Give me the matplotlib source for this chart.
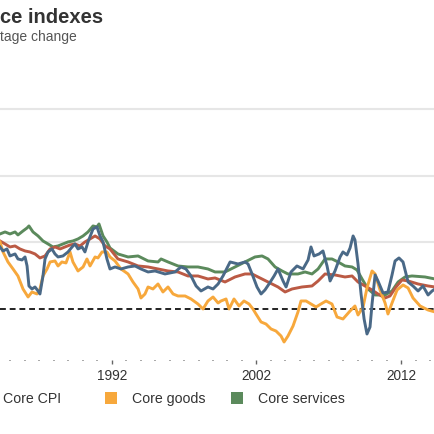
import matplotlib
matplotlib.use("Agg")
import matplotlib.pyplot as plt
from matplotlib.patches import Rectangle

plt.rcParams['font.family'] = ['Liberation Sans', 'DejaVu Sans']

# Core services (green)
svc_year = [1984.28, 1984.63, 1984.97, 1985.32, 1985.52, 1985.87, 1986.15, 1986.28, 1986.56, 1986.91,
            1987.25, 1987.60, 1987.94, 1988.29, 1988.63, 1988.98, 1989.32, 1989.67, 1990.02, 1990.36,
            1990.71, 1990.98, 1991.12, 1991.40, 1991.67, 1991.88, 1992.43, 1993.13, 1993.82, 1994.51,
            1995.20, 1995.41, 1995.89, 1996.58, 1997.27, 1997.96, 1998.65, 1999.14, 1999.83, 2000.52,
            2001.21, 2001.90, 2002.39, 2002.80, 2003.29, 2003.77, 2004.18, 2004.87, 2005.36, 2005.84,
            2006.26, 2006.74, 2007.22, 2007.64, 2008.12, 2008.61, 2008.95, 2009.30, 2009.71, 2010.20,
            2010.89, 2011.37, 2011.79, 2012.27, 2012.75, 2013.65, 2014.34]
svc_val = [2.25, 2.31, 2.25, 2.31, 2.22, 2.34, 2.43, 2.49, 2.31, 2.19,
           2.04, 1.95, 1.86, 1.89, 1.95, 2.01, 2.04, 2.10, 2.19, 2.31,
           2.49, 2.46, 2.55, 2.19, 2.01, 1.83, 1.65, 1.56, 1.59, 1.44,
           1.41, 1.50, 1.41, 1.29, 1.26, 1.26, 1.20, 1.11, 1.11, 1.26,
           1.41, 1.56, 1.59, 1.50, 1.26, 1.14, 1.05, 1.05, 1.11, 1.05,
           1.20, 1.50, 1.50, 1.41, 1.29, 1.26, 1.17, 0.90, 0.60, 0.42,
           0.42, 0.54, 0.81, 0.96, 0.99, 0.96, 0.90]

# Fourth series (red, legend entry cropped)
red_year = [1984.28, 1984.63, 1984.97, 1985.32, 1985.66, 1986.01, 1986.35, 1986.70, 1987.04, 1987.39,
            1987.74, 1988.08, 1988.43, 1988.77, 1989.12, 1989.46, 1989.81, 1990.15, 1990.50, 1990.85,
            1991.19, 1991.54, 1991.88, 1992.43, 1993.13, 1993.82, 1994.51, 1995.20, 1995.89, 1996.58,
            1997.27, 1997.96, 1998.65, 1999.14, 1999.83, 2000.52, 2001.21, 2001.70, 2002.11, 2002.80,
            2003.49, 2003.98, 2004.46, 2005.15, 2005.84, 2006.26, 2006.74, 2007.43, 2008.12, 2008.61,
            2009.02, 2009.50, 2009.99, 2010.40, 2010.89, 2011.23, 2011.65, 2012.06, 2012.48, 2013.17,
            2013.86, 2014.34]
red_val = [2.04, 1.95, 1.86, 1.89, 1.80, 1.74, 1.71, 1.65, 1.53, 1.59,
           1.80, 1.86, 1.80, 1.86, 1.92, 1.95, 1.89, 2.01, 2.10, 2.19,
           2.10, 1.89, 1.80, 1.50, 1.41, 1.29, 1.26, 1.20, 1.14, 1.11,
           0.99, 0.99, 0.90, 0.93, 0.81, 0.96, 1.05, 1.05, 0.96, 0.81,
           0.66, 0.51, 0.60, 0.66, 0.69, 0.84, 1.05, 1.02, 0.96, 0.99,
           0.81, 0.69, 0.57, 0.45, 0.33, 0.39, 0.66, 0.87, 0.84, 0.75,
           0.69, 0.66]

# Core CPI (blue)
cpi_year = [1984.28, 1984.49, 1984.76, 1984.97, 1985.32, 1985.52, 1985.80, 1986.01, 1986.15, 1986.28,
            1986.49, 1986.70, 1986.91, 1987.04, 1987.25, 1987.39, 1987.60, 1987.87, 1988.08, 1988.29,
            1988.63, 1988.98, 1989.26, 1989.46, 1989.67, 1989.95, 1990.15, 1990.36, 1990.71, 1990.98,
            1991.19, 1991.40, 1991.67, 1991.88, 1992.23, 1992.64, 1993.13, 1993.61, 1994.02, 1994.51,
            1994.99, 1995.68, 1996.37, 1996.79, 1997.13, 1997.48, 1997.83, 1998.17, 1998.65, 1999.00,
            1999.35, 1999.69, 2000.18, 2000.73, 2001.21, 2001.42, 2001.70, 2002.04, 2002.32, 2002.59,
            2002.87, 2003.22, 2003.49, 2003.84, 2004.05, 2004.39, 2004.80, 2005.22, 2005.57, 2005.77,
            2005.98, 2006.33, 2006.60, 2006.88, 2007.09, 2007.43, 2007.78, 2007.98, 2008.26, 2008.47,
            2008.68, 2008.81, 2009.02, 2009.23, 2009.44, 2009.64, 2009.85, 2009.99, 2010.20, 2010.40,
            2010.75, 2011.09, 2011.37, 2011.58, 2011.85, 2012.13, 2012.48, 2012.82, 2013.17, 2013.51,
            2013.86, 2014.14, 2014.34]
cpi_val = [1.86, 1.74, 1.80, 1.59, 1.65, 1.50, 1.47, 1.56, 1.29, 0.69,
           0.60, 0.66, 0.54, 0.45, 0.99, 1.50, 1.71, 1.80, 1.65, 1.56,
           1.59, 1.71, 1.86, 1.95, 1.80, 1.86, 1.71, 2.01, 2.40, 2.46,
           2.19, 2.01, 1.50, 1.20, 1.26, 1.20, 1.26, 1.29, 1.20, 1.11,
           1.14, 1.05, 1.11, 1.26, 1.20, 0.99, 0.69, 0.54, 0.66, 0.60,
           0.75, 0.99, 1.41, 1.35, 1.41, 1.35, 1.05, 0.66, 0.45, 0.57,
           0.75, 0.99, 1.20, 0.84, 0.66, 1.11, 1.29, 1.20, 1.47, 1.86,
           1.59, 1.65, 1.74, 1.29, 0.84, 1.14, 1.56, 1.71, 1.62, 1.83,
           2.19, 2.07, 1.35, 0.45, -0.30, -0.75, -0.54, 0.15, 1.02, 0.84,
           0.48, 0.51, 1.02, 1.44, 1.53, 1.41, 0.81, 0.69, 0.54, 0.69,
           0.42, 0.54, 0.60]

# Core goods (orange)
goods_year = [1984.28, 1984.49, 1984.83, 1985.18, 1985.52, 1985.87, 1986.22, 1986.49, 1986.84, 1987.04,
              1987.25, 1987.53, 1987.74, 1988.08, 1988.29, 1988.56, 1988.84, 1989.12, 1989.32, 1989.67,
              1990.02, 1990.29, 1990.50, 1990.85, 1991.05, 1991.33, 1991.67, 1991.88, 1992.23, 1992.64,
              1993.13, 1993.47, 1993.82, 1994.02, 1994.30, 1994.51, 1994.85, 1995.20, 1995.54, 1995.89,
              1996.24, 1996.58, 1997.07, 1997.48, 1997.96, 1998.31, 1998.65, 1999.00, 1999.35, 1999.55,
              1999.90, 2000.11, 2000.45, 2000.80, 2001.14, 2001.49, 2001.76, 2001.97, 2002.32, 2002.66,
              2003.01, 2003.35, 2003.70, 2003.91, 2004.18, 2004.53, 2004.87, 2005.08, 2005.43, 2005.77,
              2006.12, 2006.46, 2006.81, 2007.22, 2007.57, 2007.98, 2008.47, 2008.81, 2009.02, 2009.37,
              2009.64, 2009.99, 2010.20, 2010.54, 2010.89, 2011.09, 2011.37, 2011.72, 2012.13, 2012.48,
              2012.82, 2013.31, 2013.86, 2014.34]
goods_val = [2.01, 1.71, 1.41, 1.20, 0.99, 0.60, 0.36, 0.51, 0.45, 0.60,
             0.99, 1.20, 1.41, 1.44, 1.29, 1.41, 1.38, 1.71, 1.41, 1.14,
             1.26, 1.50, 1.29, 1.56, 1.53, 1.71, 1.71, 1.56, 1.44, 1.20,
             1.05, 0.81, 0.60, 0.33, 0.45, 0.66, 0.60, 0.75, 0.51, 0.66,
             0.45, 0.39, 0.39, 0.30, 0.15, 0.00, 0.24, 0.36, 0.18, 0.24,
             0.30, 0.00, 0.30, 0.09, 0.24, 0.15, 0.00, -0.15, -0.39, -0.45,
             -0.60, -0.66, -0.81, -0.99, -0.81, -0.51, -0.09, 0.24, 0.24, 0.15,
             0.06, 0.15, 0.24, 0.15, -0.24, -0.30, -0.06, 0.09, -0.18, 0.06,
             0.63, 1.14, 1.05, 0.57, 0.18, -0.15, 0.18, 0.57, 0.72, 0.63,
             0.33, 0.09, -0.03, -0.09]

grid_vals = [2, 4, 6]
tick_years = [1992, 2002, 2012]

c_blue = '#4a6987'
c_orange = '#f7a83c'
c_green = '#5b8a5c'
c_red = '#bb5a44'

fig = plt.figure(figsize=(4.35, 4.35), dpi=100)
ax = fig.add_axes([0.0, 0.1701, 1.0, 0.6156])

for g in grid_vals:
    ax.axhline(g, color='#e6e6e6', lw=1.5, zorder=1)
ax.axhline(0, color='#222222', lw=1.4, ls=(0, (3, 2)), zorder=2)

lw = 2.1
ax.plot(svc_year, svc_val, color=c_green, lw=lw, zorder=3, solid_joinstyle='round')
ax.plot(red_year, red_val, color=c_red, lw=lw, zorder=4, solid_joinstyle='round')
ax.plot(goods_year, goods_val, color=c_orange, lw=lw, zorder=5, solid_joinstyle='round')
ax.plot(cpi_year, cpi_val, color=c_blue, lw=lw, zorder=6, solid_joinstyle='round')

for s in ax.spines.values():
    s.set_visible(False)
ax.set_yticks([])
ax.set_xticks(tick_years)
ax.set_xticklabels([str(y) for y in tick_years])
ax.set_xticks(range(1985, 2015), minor=True)
ax.tick_params(axis='x', which='major', length=3, width=1, color='#666666',
               labelsize=9.8, labelcolor='#333333', pad=3)
ax.tick_params(axis='x', which='minor', length=1, width=1.2, color='#999999')
# limits last, set_ticks may widen them
ax.set_xlim(1984.28, 2014.34)
ax.set_ylim(-1.53, 6.5)

fig.text(0.0, 0.947, 'ce indexes', fontsize=14.5, fontweight='bold', color='#333333', va='baseline')
fig.text(0.0, 0.906, 'tage change', fontsize=10, color='#555555', va='baseline')

legend_items = [(-0.055, c_blue, 'Core CPI'), (0.241, c_orange, 'Core goods'),
                (0.531, c_green, 'Core services')]
for lx, col, label in legend_items:
    fig.patches.append(Rectangle((lx, 0.069), 0.0276, 0.0276, transform=fig.transFigure,
                                 facecolor=col, edgecolor='none'))
    fig.text(lx + 0.0615, 0.0736, label, fontsize=10.2, color='#333333', va='baseline')

fig.savefig('out.png', dpi=100)
